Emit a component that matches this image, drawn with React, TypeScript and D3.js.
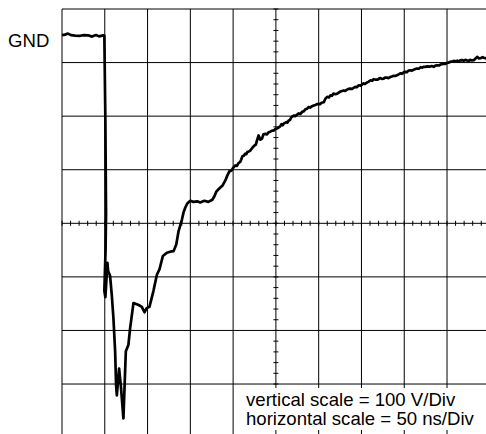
import React from "react";
import * as d3 from "d3";

// Oscilloscope grid: 10 horizontal divisions (50 ns/div), 8 vertical divisions (100 V/div)
const xDivisions = [0, 1, 2, 3, 4, 5, 6, 7, 8, 9, 10];
const yDivisions = [-4, -3, -2, -1, 0, 1, 2, 3, 4];
const minorPerDiv = 5;
const nsPerDiv = 50;
const voltsPerDiv = 100;
const gndOffsetDiv = 3.5;

const gndLabel = "GND";
const scaleLabels = ["vertical scale = 100 V/Div", "horizontal scale = 50 ns/Div"];

// Trace: time in ns, voltage in V relative to GND
const traceTimeNs = [
  0, 3.5, 7, 10.5, 15.2, 21.1, 25.8, 30.4, 35.1, 39.8, 43.3, 48, 49.5, 50.7, 51.5, 50.9, 49.5, 50.7, 53.1, 53.9,
  56.2, 58.2, 60.1, 62.1, 63.2, 64.1, 66.7, 68.7, 71.8, 74.6, 77.6, 79.6, 83.5, 87.5, 91.3, 93.3, 96.4, 99.2, 102.2, 106.9,
  110.9, 113.9, 117.9, 122.6, 126.5, 130.3, 133.5, 136.2, 140.2, 142, 144, 146.4, 149.9, 153.4, 158.1, 161.6, 166.3, 171, 175.7, 178,
  180.3, 183.8, 187.4, 190.9, 193.2, 195.6, 197.9, 200.3, 202.6, 204.5, 206.1, 208.4, 209.5, 210.8, 212.3, 214.3, 215.5, 216.6, 218.5, 220.2,
  222.5, 224.8, 226.5, 228, 229.8, 231.9, 233.8, 235.4, 237.7, 239.5, 241.6, 243.5, 245.6, 247.5, 249.4, 251.5, 253.3, 255, 256.5, 258,
  259.1, 262.3, 263.5, 265, 266.5, 268.2, 270.9, 272.5, 274, 276.7, 278.5, 280.7, 282.5, 284.6, 286.5, 288.4, 290, 291.6, 294.3, 296,
  297.4, 300.1, 301.5, 303.3, 306, 308, 310, 312, 313.8, 315.5, 317.3, 319.5, 321.7, 323.5, 325.5, 327.5, 329.4, 331, 332.6, 335,
  337.2, 339, 342.7, 344.5, 346.9, 349, 352.5, 354, 356, 358, 360.7, 362.5, 364.2, 366.5, 368.9, 370.5, 372.4, 374, 375.9, 377.5,
  379.4, 381.5, 383.7, 385.5, 387.6, 389.5, 391.5, 393.5, 395.8, 397.5, 399.5, 401.3, 403, 405, 407.2, 409, 411, 413, 414.9, 417,
  419.2, 421, 422.5, 424.7, 427, 429.8, 432, 434.4, 436.5, 438.5, 440.5, 442.3, 444, 446.1, 448, 450, 452, 454.3, 456, 457.9,
  460, 462, 463.7, 465.5, 467.5, 469.6, 471.5, 473.5, 475.4, 477, 479, 481.3, 483, 485.2, 487, 489.5, 491.5, 493, 495, 496.5, 498,
];
const traceVolts = [
  1.3, 2.2, 4.1, 1.3, 0.4, 0, 1.3, 0.9, -1.5, 1.3, -1.1, 0.7, 0.4, -158, -332, -401, -476, -488, -424, -439,
  -448, -484, -527, -589, -652, -671, -621, -652, -714, -589, -577, -546, -499, -501, -504, -506, -516, -508, -506, -476,
  -446, -436, -411, -405, -403, -402, -390, -365, -343, -330, -321, -313, -308, -310, -309, -311, -308, -310, -306, -300,
  -291, -285, -280, -270, -261, -253, -252, -246, -242, -243, -238, -235, -231, -225, -224, -220, -221, -217, -216, -214,
  -209, -205, -203, -195, -186, -194, -192, -184, -183, -184, -180, -179, -177, -177, -174, -173, -171, -169, -165, -167,
  -164, -161, -162, -158, -157, -152, -149, -150, -148, -145, -146, -142, -141, -137, -136, -133, -134, -132, -130, -129,
  -128, -127, -128, -125, -124, -117, -114, -115, -111, -112, -108, -109, -108, -106, -104, -103, -102, -103, -101, -99,
  -98.5, -99, -95.5, -96, -92.4, -93, -89, -90, -87.7, -86, -83, -84, -81, -82, -82, -80, -79, -80.5, -80, -78,
  -78, -79, -77, -76, -74.6, -75, -73.6, -72, -70, -71, -68, -67.4, -68, -65, -64.3, -65, -63.3, -62, -61, -61.5,
  -58.6, -59.5, -58, -58, -57, -57.7, -56.5, -58, -55.5, -55, -55.5, -53.6, -53, -52, -52.5, -50.6, -50, -48.3, -48.5, -46.8,
  -47.5, -46.5, -48, -46, -45.5, -46.5, -45, -46, -47, -45, -46, -45.5, -43, -39.3, -42, -41.8, -40, -41, -42, -42.3, -41.5,
];

const W = 486;
const H = 434;

export default function App() {
  const xDiv = d3.scaleLinear().domain([0, 10]).range([62, 489.8]);
  const yDiv = d3.scaleLinear().domain([-4, 4]).range([437.6, 9]);
  const xT = (t: number) => xDiv(t / nsPerDiv);
  const yV = (v: number) => yDiv(v / voltsPerDiv + gndOffsetDiv);

  const pts: [number, number][] = traceTimeNs.map((t, i) => [t, traceVolts[i]]);
  const line = d3
    .line<[number, number]>()
    .x((d) => xT(d[0]))
    .y((d) => yV(d[1]));

  const minorX: number[] = [];
  for (let i = 0; i < 10 * minorPerDiv; i++) minorX.push(i / minorPerDiv);
  const minorY: number[] = [];
  for (let i = -4 * minorPerDiv; i <= 4 * minorPerDiv; i++) minorY.push(i / minorPerDiv);

  const cx = xDiv(5);
  const cy = yDiv(0);

  return (
    <svg
      width={W}
      height={H}
      style={{ position: "absolute", left: 0, top: 0, background: "#fff" }}
      fontFamily="'Liberation Sans', Arial, sans-serif"
    >
      <rect x={0} y={0} width={W} height={H} fill="#fff" />
      {xDivisions.map((d) => (
        <line key={"vx" + d} x1={xDiv(d)} x2={xDiv(d)} y1={yDiv(4)} y2={yDiv(-4)} stroke="#000" strokeWidth={1} />
      ))}
      {yDivisions.map((d) => (
        <line key={"hy" + d} x1={xDiv(0)} x2={xDiv(10)} y1={yDiv(d)} y2={yDiv(d)} stroke="#000" strokeWidth={1} />
      ))}
      {minorX.map((m) => (
        <line key={"mx" + m} x1={xDiv(m)} x2={xDiv(m)} y1={cy - 2.5} y2={cy + 2.5} stroke="#000" strokeWidth={1} />
      ))}
      {minorY.map((m) => (
        <line key={"my" + m} x1={cx - 2.5} x2={cx + 2.5} y1={yDiv(m)} y2={yDiv(m)} stroke="#000" strokeWidth={1} />
      ))}
      <path d={line(pts) || ""} fill="none" stroke="#000" strokeWidth={2.7} strokeLinejoin="round" />
      <rect x={244} y={388} width={W - 244} height={42} fill="#fff" />
      <text x={246} y={405.5} fontSize={18.6} fill="#000">
        {scaleLabels[0]}
      </text>
      <text x={246} y={424.5} fontSize={18.6} fill="#000">
        {scaleLabels[1]}
      </text>
      <text x={8} y={46.5} fontSize={18.6} fill="#000">
        {gndLabel}
      </text>
    </svg>
  );
}
